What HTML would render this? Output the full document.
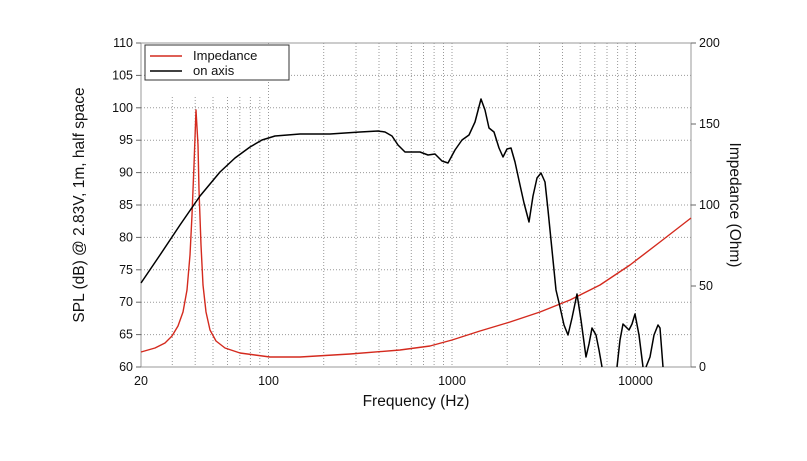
<!DOCTYPE html>
<html><head><style>body{margin:0;background:#fff}svg{display:block}text{font-family:"Liberation Sans",Arial,sans-serif;fill:#111}</style></head>
<body>
<svg width="807" height="461" viewBox="0 0 807 461" xmlns="http://www.w3.org/2000/svg">
<g stroke="#999" stroke-width="1" stroke-dasharray="1,2">
<line x1="141" y1="75.4" x2="691" y2="75.4"/><line x1="141" y1="107.8" x2="691" y2="107.8"/><line x1="141" y1="140.2" x2="691" y2="140.2"/><line x1="141" y1="172.6" x2="691" y2="172.6"/><line x1="141" y1="205" x2="691" y2="205"/><line x1="141" y1="237.4" x2="691" y2="237.4"/><line x1="141" y1="269.8" x2="691" y2="269.8"/><line x1="141" y1="302.2" x2="691" y2="302.2"/><line x1="141" y1="334.6" x2="691" y2="334.6"/>
<line x1="172.3" y1="97" x2="172.3" y2="367"/><line x1="195.2" y1="97" x2="195.2" y2="367"/><line x1="213" y1="97" x2="213" y2="367"/><line x1="227.5" y1="97" x2="227.5" y2="367"/><line x1="239.8" y1="97" x2="239.8" y2="367"/><line x1="250.4" y1="97" x2="250.4" y2="367"/><line x1="259.8" y1="97" x2="259.8" y2="367"/>
<line x1="268.5" y1="43" x2="268.5" y2="367"/><line x1="323.7" y1="43" x2="323.7" y2="367"/><line x1="356" y1="43" x2="356" y2="367"/><line x1="379" y1="43" x2="379" y2="367"/><line x1="396.7" y1="43" x2="396.7" y2="367"/><line x1="411.3" y1="43" x2="411.3" y2="367"/><line x1="423.5" y1="43" x2="423.5" y2="367"/><line x1="434.1" y1="43" x2="434.1" y2="367"/><line x1="443.5" y1="43" x2="443.5" y2="367"/>
<line x1="452" y1="43" x2="452" y2="367"/><line x1="507.2" y1="43" x2="507.2" y2="367"/><line x1="539.5" y1="43" x2="539.5" y2="367"/><line x1="562.5" y1="43" x2="562.5" y2="367"/><line x1="580.2" y1="43" x2="580.2" y2="367"/><line x1="594.8" y1="43" x2="594.8" y2="367"/><line x1="607" y1="43" x2="607" y2="367"/><line x1="617.6" y1="43" x2="617.6" y2="367"/><line x1="627" y1="43" x2="627" y2="367"/><line x1="635.5" y1="43" x2="635.5" y2="367"/>
</g>
<rect x="141" y="43" width="550" height="324" fill="none" stroke="#999" stroke-width="1"/>
<g stroke="#666" stroke-width="1">
<line x1="136" y1="43" x2="141" y2="43"/><line x1="136" y1="75.4" x2="141" y2="75.4"/><line x1="136" y1="107.8" x2="141" y2="107.8"/><line x1="136" y1="140.2" x2="141" y2="140.2"/><line x1="136" y1="172.6" x2="141" y2="172.6"/><line x1="136" y1="205" x2="141" y2="205"/><line x1="136" y1="237.4" x2="141" y2="237.4"/><line x1="136" y1="269.8" x2="141" y2="269.8"/><line x1="136" y1="302.2" x2="141" y2="302.2"/><line x1="136" y1="334.6" x2="141" y2="334.6"/><line x1="136" y1="367" x2="141" y2="367"/>
<line x1="691" y1="43" x2="696" y2="43"/><line x1="691" y1="124" x2="696" y2="124"/><line x1="691" y1="205" x2="696" y2="205"/><line x1="691" y1="286" x2="696" y2="286"/><line x1="691" y1="367" x2="696" y2="367"/>
</g>
<g font-size="12.5" text-anchor="end">
<text x="133" y="47">110</text><text x="133" y="79.4">105</text><text x="133" y="111.8">100</text><text x="133" y="144.2">95</text><text x="133" y="176.6">90</text><text x="133" y="209">85</text><text x="133" y="241.4">80</text><text x="133" y="273.8">75</text><text x="133" y="306.2">70</text><text x="133" y="338.6">65</text><text x="133" y="371">60</text>
</g>
<g font-size="12.5">
<text x="699" y="47">200</text><text x="699" y="128">150</text><text x="699" y="209">100</text><text x="699" y="290">50</text><text x="699" y="371">0</text>
</g>
<g font-size="12.5" text-anchor="middle">
<text x="141" y="385">20</text><text x="268.5" y="385">100</text><text x="452" y="385">1000</text><text x="635.5" y="385">10000</text>
</g>
<text x="416" y="406" font-size="15.5" text-anchor="middle">Frequency (Hz)</text>
<text transform="translate(84,205) rotate(-90)" font-size="15.5" text-anchor="middle">SPL (dB) @ 2.83V, 1m, half space</text>
<text transform="translate(730,205) rotate(90)" font-size="15.5" text-anchor="middle">Impedance (Ohm)</text>
<polyline fill="none" stroke="#d42a1e" stroke-width="1.4" stroke-linejoin="round" points="141,352 155,348 165,343 172,336 178,326 183,312 187,290 190,255 192,215 194,165 196,110 198,145 199,190 201,245 203,285 206,312 210,330 216,341 225,348 240,353 270,357 300,357 350,354 400,350 430,346 452,340 480,331 510,322 540,312 570,300 600,285 630,265 660,242 691,218"/>
<polyline fill="none" stroke="#000" stroke-width="1.5" stroke-linejoin="round" points="141,283 160,255 180,225 200,196 220,172 235,158 250,147 262,140 275,136 300,134 330,134 360,132 378,131 385,132 392,136 398,145 405,152 412,152 420,152 428,155 435,154 442,161 448,163 455,150 462,140 469,135 475,122 481,99 485,110 489,128 494,132 499,148 503,157 507,149 511,148 515,162 520,185 524,203 529,222 533,196 537,178 541,173 545,182 548,210 552,250 556,290 560,307 564,325 568,335 572,318 577,294 581,320 586,357 589,344 592,328 596,335 599,350 602,367"/>
<polyline fill="none" stroke="#000" stroke-width="1.5" stroke-linejoin="round" points="617,367 620,340 623,324 626,327 629,330 632,324 635,314 639,335 643,367"/>
<polyline fill="none" stroke="#000" stroke-width="1.5" stroke-linejoin="round" points="646,367 650,357 654,335 658,325 660,328 663,367"/>
<rect x="145" y="45" width="144" height="35" fill="#fff" stroke="#333" stroke-width="1"/>
<line x1="150" y1="56" x2="182" y2="56" stroke="#d42a1e" stroke-width="1.5"/>
<line x1="150" y1="71" x2="182" y2="71" stroke="#000" stroke-width="1.5"/>
<text x="193" y="60" font-size="13">Impedance</text>
<text x="193" y="75" font-size="13">on axis</text>
</svg>
</body></html>
